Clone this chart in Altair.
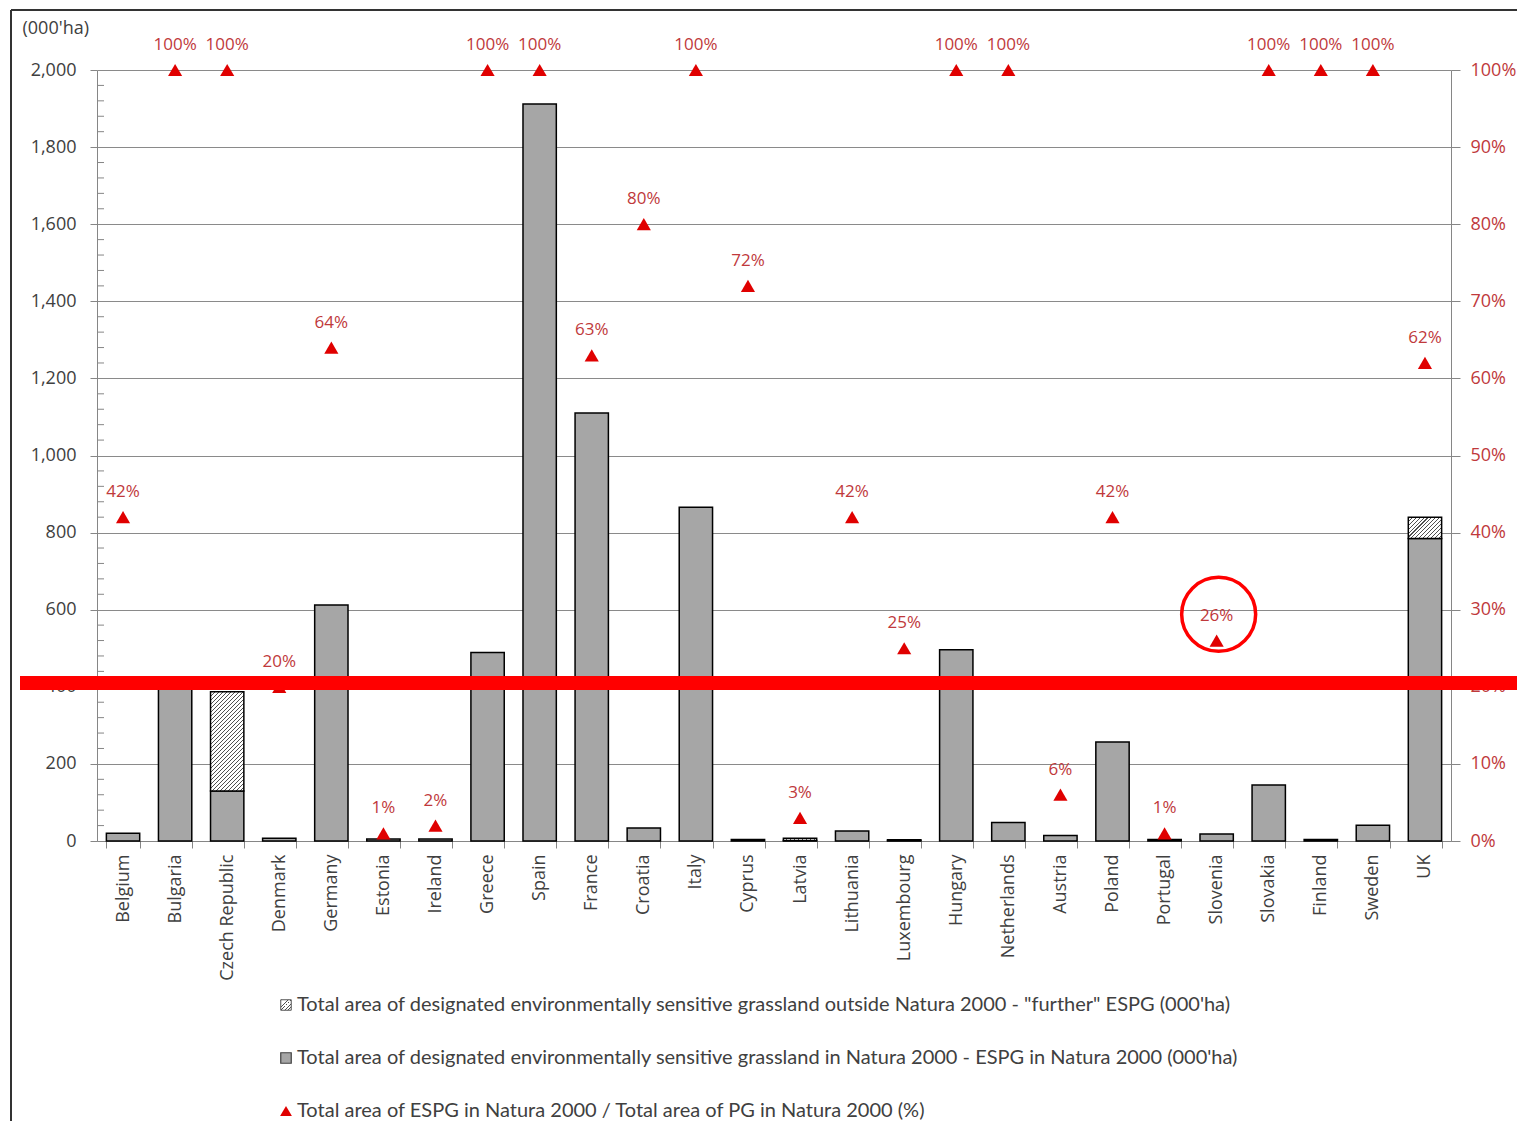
import altair as alt
import pandas as pd

# ---------------- data ----------------
countries = ["Belgium", "Bulgaria", "Czech Republic", "Denmark", "Germany", "Estonia",
             "Ireland", "Greece", "Spain", "France", "Croatia", "Italy", "Cyprus",
             "Latvia", "Lithuania", "Luxembourg", "Hungary", "Netherlands", "Austria",
             "Poland", "Portugal", "Slovenia", "Slovakia", "Finland", "Sweden", "UK"]
espg_natura = [20, 415, 130, 7, 612, 5, 5, 489, 1912, 1110, 34, 866, 4,
               1, 26, 1, 496, 48, 14, 257, 4, 18, 145, 4, 41, 785]
espg_further = [0, 0, 257, 0, 0, 0, 0, 0, 0, 0, 0, 0, 0,
                6, 0, 2, 0, 0, 0, 0, 0, 0, 0, 0, 0, 55]
share_pct = [42, 100, 100, 20, 64, 1, 2, 100, 100, 63, 80, 100, 72,
             3, 42, 25, 100, 100, 6, 42, 1, 26, 100, 100, 100, 62]

left_ticks = [0, 200, 400, 600, 800, 1000, 1200, 1400, 1600, 1800, 2000]
left_minor = [v for v in range(40, 2000, 40) if v % 200]
right_ticks = [0, 0.1, 0.2, 0.3, 0.4, 0.5, 0.6, 0.7, 0.8, 0.9, 1.0]

legend_labels = [
    'Total area of designated environmentally sensitive grassland outside Natura 2000  - "further"  ESPG (000\'ha)',
    "Total area of designated environmentally sensitive grassland in Natura 2000 - ESPG in Natura 2000 (000'ha)",
    "Total area of ESPG in Natura 2000 / Total area of PG in Natura 2000 (%)",
]

# annotations drawn on top of the original picture
highlight_line_pct = [20.5]
highlight_circle = {"country": ["Slovenia"], "pct": [29.4]}

# ---------------- layout / style ----------------
W, H = 1354, 771
PAD_IN, PAD_OUT = 0.36, 0.18
STEP = W / len(countries)
BAR_W = STEP * (1 - PAD_IN)

BAR_GRAY = "#a6a6a6"
AXIS_GRAY = "#868686"
GRID_GRAY = "#8a8a8a"
TEXT = "#404040"
RED_LABEL = "#c0393b"
RED_TRI = "#e00000"
FONT = "Open Sans"


def hatch(w, h, spacing=4.0, frac=0.28, dark="#505050", light="#ffffff"):
    n = max(1, round((w + h) / spacing))
    k = (w + h) / (w * w + h * h)
    stops = []
    for i in range(n):
        a, b, c = i / n, (i + frac) / n, (i + 1) / n
        stops += [alt.GradientStop(color=dark, offset=a),
                  alt.GradientStop(color=dark, offset=b),
                  alt.GradientStop(color=light, offset=b),
                  alt.GradientStop(color=light, offset=c)]
    return alt.LinearGradient(gradient="linear", stops=stops,
                              x1=0, y1=0, x2=k * w, y2=k * h)


df = pd.DataFrame({
    "country": countries,
    "natura": espg_natura,
    "further": espg_further,
    "pct": share_pct,
})
df["total"] = df["natura"] + df["further"]
df["frac"] = df["pct"] / 100
df["label"] = df["pct"].astype(str) + "%"

x_axis = alt.Axis(title=None, labelAngle=270, labelFont=FONT, labelFontSize=18,
                  labelColor=TEXT, tickBand="extent", tickSize=7, tickColor=AXIS_GRAY,
                  domainColor=AXIS_GRAY, labelPadding=6, grid=False)
x_enc = alt.X("country:N", sort=countries, title=None,
              scale=alt.Scale(paddingInner=PAD_IN, paddingOuter=PAD_OUT), axis=x_axis)

y_left_scale = alt.Scale(domain=[0, 2000], nice=False)
y_right_scale = alt.Scale(domain=[0, 1], nice=False)

y_left_axis = alt.Axis(values=left_ticks, labelExpr="format(datum.value, ',.0f')",
                       title="(000'ha)", titleAngle=0,
                       titleX=-75, titleY=-42, titleAlign="left", titleBaseline="middle",
                       titleFont=FONT, titleFontSize=18, titleFontWeight="normal",
                       titleColor=TEXT, labelFont=FONT, labelFontSize=18,
                       labelColor=TEXT, labelPadding=14, tickSize=7,
                       tickColor=AXIS_GRAY, domainColor=AXIS_GRAY,
                       gridColor=GRID_GRAY, grid=True)
y_right_axis = alt.Axis(orient="right", values=right_ticks,
                        labelExpr="format(datum.value, '.0%')", title=None,
                        labelFont=FONT, labelFontSize=18, labelColor=RED_LABEL,
                        labelPadding=10, tickSize=9, tickColor=AXIS_GRAY,
                        domainColor=AXIS_GRAY, grid=False)


def yl(field):
    return alt.Y(field, scale=y_left_scale, axis=y_left_axis, title="(000'ha)")


def yr(field):
    return alt.Y(field, scale=y_right_scale, axis=y_right_axis, title=None)


# ---------------- left axis group ----------------
bars = alt.Chart(df).mark_bar(fill=BAR_GRAY, stroke="black", strokeWidth=1.5).encode(
    x=x_enc, y=yl("natura:Q"),
)

hatch_layers = []
for c, f in zip(countries, espg_further):
    if f > 0:
        h_px = f * H / 2000
        hatch_layers.append(
            alt.Chart(df).transform_filter(alt.datum.country == c)
            .mark_bar(fill=hatch(BAR_W, h_px), stroke="black", strokeWidth=1.5)
            .encode(x=x_enc, y=yl("natura:Q"), y2="total:Q")
        )

minor = alt.Chart(pd.DataFrame({"natura": left_minor})).mark_rule(
    color=AXIS_GRAY, strokeWidth=1).encode(
    y=yl("natura:Q"), x=alt.value(0), x2=alt.value(7),
)

frame_top = alt.Chart(pd.DataFrame({"a": [0]})).mark_rule(color="#333333", strokeWidth=2).encode(
    x=alt.value(-86), x2=alt.value(1500), y=alt.value(-60))
frame_left = alt.Chart(pd.DataFrame({"a": [0]})).mark_rule(color="#333333", strokeWidth=2).encode(
    x=alt.value(-86), y=alt.value(-60), y2=alt.value(1100))

legend_layers = []
leg_y = [935, 988, 1041]
leg_sym_x = 189
for i, lab in enumerate(legend_labels):
    legend_layers.append(
        alt.Chart(pd.DataFrame({"t": [lab]})).mark_text(
            align="left", baseline="middle", font="Lato", fontSize=20, color=TEXT
        ).encode(text="t:N", x=alt.value(200), y=alt.value(leg_y[i]))
    )
legend_layers.append(
    alt.Chart(pd.DataFrame({"a": [0]})).mark_square(
        size=110, fill=hatch(10.5, 10.5, spacing=3.5), stroke="#555555", strokeWidth=1, opacity=1
    ).encode(x=alt.value(leg_sym_x), y=alt.value(leg_y[0])))
legend_layers.append(
    alt.Chart(pd.DataFrame({"a": [0]})).mark_square(
        size=110, fill=BAR_GRAY, stroke="#404040", strokeWidth=1.2, opacity=1
    ).encode(x=alt.value(leg_sym_x), y=alt.value(leg_y[1])))
legend_layers.append(
    alt.Chart(pd.DataFrame({"a": [0]})).mark_point(
        shape="triangle-up", size=140, filled=True, color=RED_TRI, opacity=1
    ).encode(x=alt.value(leg_sym_x), y=alt.value(leg_y[2])))

left_group = alt.layer(bars, *hatch_layers, minor, frame_top, frame_left, *legend_layers)

# ---------------- right axis group ----------------
tri = alt.Chart(df).mark_point(shape="triangle-up", filled=True, size=200,
                               color=RED_TRI, opacity=1).encode(
    x=x_enc, y=yr("frac:Q"),
)
labels = alt.Chart(df).mark_text(dy=-25, font=FONT, fontSize=17, color=RED_LABEL).encode(
    x=x_enc, y=yr("frac:Q"), text="label:N",
)

hl_line = alt.Chart(pd.DataFrame({"p": highlight_line_pct})).transform_calculate(
    frac="datum.p / 100").mark_rule(color="#ff0000", strokeWidth=14).encode(
    y=yr("frac:Q"), x=alt.value(-77), x2=alt.value(1440),
)
hl_circle = alt.Chart(pd.DataFrame(highlight_circle)).transform_calculate(
    frac="datum.pct / 100").mark_point(shape="circle", filled=False, size=5476,
                                      stroke="#ff0000", strokeWidth=3.5, opacity=1,
                                      xOffset=2).encode(
    x=x_enc, y=yr("frac:Q"),
)

right_group = alt.layer(tri, labels, hl_line, hl_circle)

chart = alt.layer(left_group, right_group).resolve_scale(y="independent").properties(
    width=W, height=H,
    padding={"left": 89, "top": 62, "right": 66, "bottom": 280},
    autosize=alt.AutoSizeParams(type="none"),
    background="white",
).configure_view(stroke=None)

chart.save("out.html", embed_options={"renderer": "svg", "actions": False})
